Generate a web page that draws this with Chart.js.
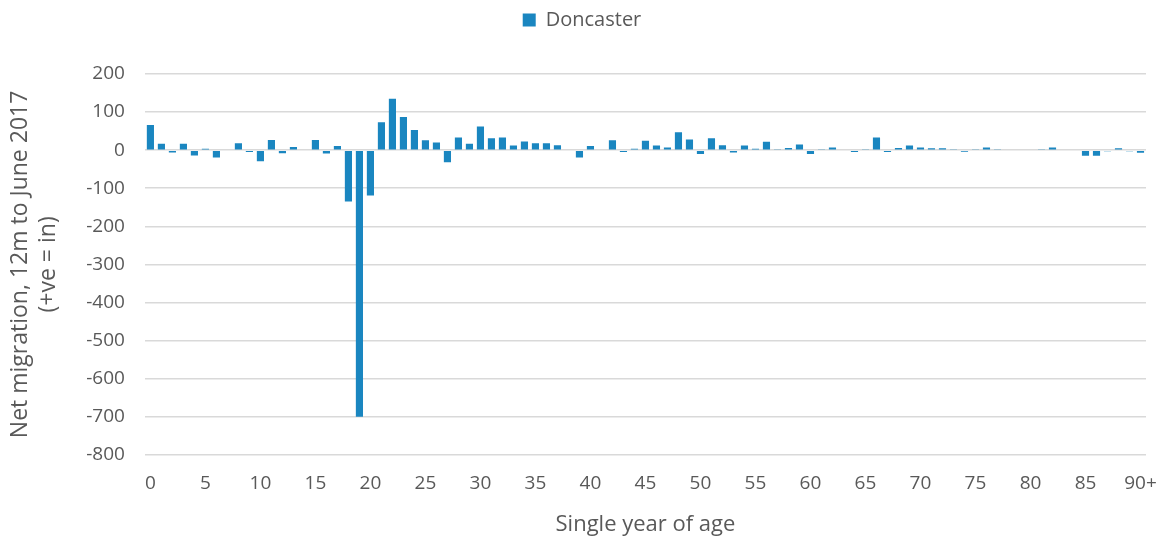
<!DOCTYPE html>
<html>
<head>
<meta charset="utf-8">
<script src="https://cdn.jsdelivr.net/npm/chart.js@4"></script>
<style>
  html, body { margin: 0; padding: 0; background: #fff; }
  #wrap { width: 1162px; height: 538px; }
</style>
</head>
<body>
<div id="wrap"><canvas id="myChart"></canvas></div>
<script>
// ages 0..89 and 90+
const ages = [];
for (let i = 0; i < 90; i++) ages.push(String(i));
ages.push('90+');

// net migration by single year of age
const doncaster = [
  66, 17, -6, 17, -14, 4, -19, 2, 18, -5,
  -29, 27, -8, 8, 2, 27, -9, 11, -135, -700,
  -119, 73, 135, 87, 53, 26, 20, -32, 33, 17,
  62, 31, 33, 12, 23, 18, 18, 13, 0, -19,
  11, 2, 26, -5, 4, 25, 12, 7, 47, 28,
  -10, 31, 13, -6, 12, 4, 22, 1, 6, 15,
  -10, 1, 7, 2, -5, 1, 33, -5, 6, 12,
  7, 5, 5, 1, -4, 1, 7, 1, 0, 0,
  0, 1, 7, 0, 0, -15, -15, -3, 5, -3,
  -7
];

const yTitle = ['Net migration, 12m to June 2017', '(+ve = in)'];
const xTitle = 'Single year of age';

// extra space under the legend
const legendGap = {
    id: 'legendGap',
    afterInit(chart) {
        const orig = chart.legend.fit;
        chart.legend.fit = function () {
            orig.call(this);
            this.height += 34;
        };
    }
};

const ctx = document.getElementById('myChart').getContext('2d');
const myChart = new Chart(ctx, {
    type: 'bar',
    data: {
        labels: ages,
        datasets: [{
            label: 'Doncaster',
            data: doncaster,
            backgroundColor: '#1a86c0',
            borderWidth: 0,
            barPercentage: 0.65,
            categoryPercentage: 1.0
        }]
    },
    plugins: [legendGap],
    options: {
        responsive: true,
        maintainAspectRatio: false,
        animation: false,
        layout: { padding: { top: 0, right: 1, left: 3, bottom: 0 } },
        plugins: {
            legend: {
                position: 'top',
                labels: {
                    boxWidth: 13,
                    boxHeight: 13,
                    padding: 10,
                    color: '#595959',
                    font: { family: 'Open Sans', size: 20 }
                }
            },
            tooltip: { enabled: false }
        },
        scales: {
            x: {
                grid: { display: false, drawTicks: false },
                border: { display: false },
                afterFit: function (scale) {
                    scale.paddingRight = 16;
                },
                ticks: {
                    autoSkip: false,
                    maxRotation: 0,
                    padding: 17,
                    color: '#595959',
                    font: { family: 'Open Sans', size: 19 },
                    callback: function (value, index) {
                        return index % 5 === 0 ? ages[index] : null;
                    }
                },
                title: {
                    display: true,
                    text: xTitle,
                    color: '#595959',
                    font: { family: 'Open Sans', size: 22 },
                    padding: { top: 0, bottom: 0 }
                }
            },
            y: {
                min: -800,
                max: 200,
                grid: { color: '#d9d9d9', lineWidth: 1.5, drawTicks: false },
                border: { display: false },
                ticks: {
                    stepSize: 100,
                    padding: 20,
                    color: '#595959',
                    font: { family: 'Open Sans', size: 19 }
                },
                title: {
                    display: true,
                    text: yTitle,
                    color: '#595959',
                    font: { family: 'Open Sans', size: 23 },
                    padding: { bottom: 4 }
                }
            }
        }
    }
});
</script>
</body>
</html>
